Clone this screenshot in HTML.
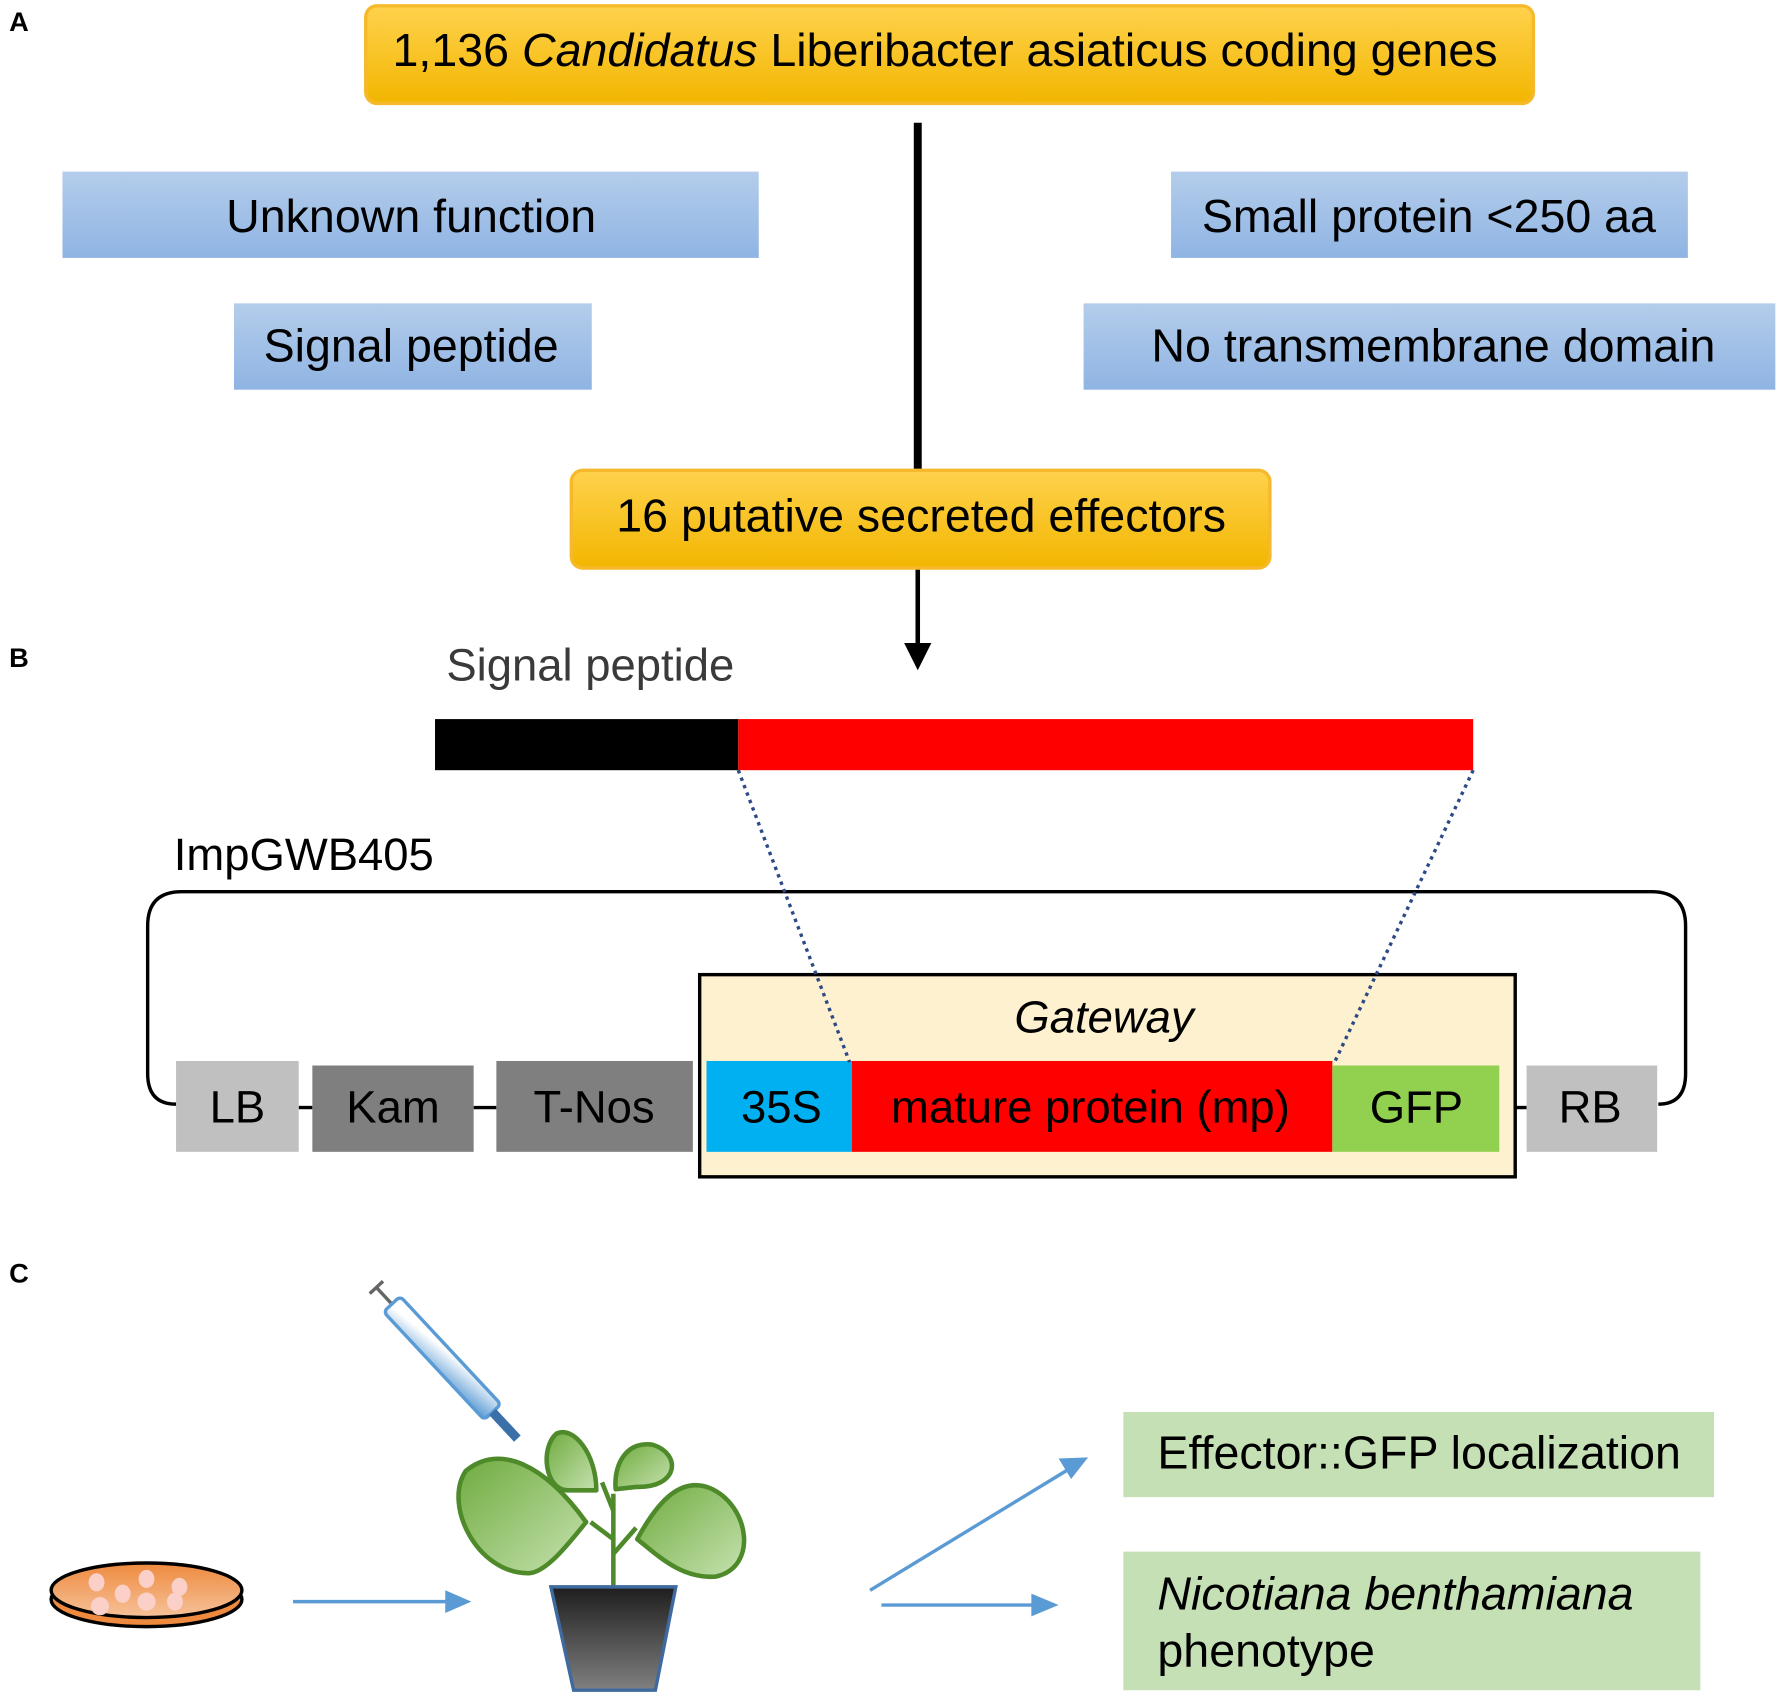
<!DOCTYPE html>
<html><head><meta charset="utf-8"><style>html,body{margin:0;padding:0;background:#fff}svg{display:block}</style></head>
<body>
<svg width="1781" height="1696" viewBox="0 0 1568 1493" xmlns="http://www.w3.org/2000/svg" font-family="Liberation Sans, Arial, sans-serif">
<defs>
<linearGradient id="gold" x1="0" y1="0" x2="0" y2="1"><stop offset="0" stop-color="#ffd24d"/><stop offset="1" stop-color="#f2b600"/></linearGradient>
<linearGradient id="blue" x1="0" y1="0" x2="0" y2="1"><stop offset="0" stop-color="#b4cdeb"/><stop offset="1" stop-color="#8fb4e3"/></linearGradient>
<linearGradient id="leaf" x1="0" y1="0" x2="1" y2="1"><stop offset="0" stop-color="#6fab3e"/><stop offset="1" stop-color="#c6e2b0"/></linearGradient>
<linearGradient id="pot" x1="0" y1="0" x2="0" y2="1"><stop offset="0" stop-color="#1e1e1e"/><stop offset="1" stop-color="#808080"/></linearGradient>
<linearGradient id="dish" x1="0" y1="0" x2="0" y2="1"><stop offset="0" stop-color="#ee8a3e"/><stop offset="1" stop-color="#f6c29a"/></linearGradient>
<linearGradient id="syr" x1="0" y1="0" x2="1" y2="1"><stop offset="0.3" stop-color="#ffffff"/><stop offset="1" stop-color="#5b9bd5"/></linearGradient>
</defs>
<g font-weight="bold" font-size="24" fill="#000">
<text x="8" y="27">A</text><text x="8" y="587">B</text><text x="8" y="1129">C</text>
</g>
<!-- A -->
<line x1="808" y1="108" x2="808" y2="414" stroke="#000" stroke-width="7"/>
<line x1="808" y1="500" x2="808" y2="568" stroke="#000" stroke-width="4"/>
<polygon points="796,566 820,566 808,590" fill="#000"/>
<rect x="322" y="5" width="1028" height="86" rx="10" fill="url(#gold)" stroke="#f7b92c" stroke-width="3"/>
<text x="832" y="58" text-anchor="middle" font-size="41" fill="#000">1,136 <tspan font-style="italic">Candidatus</tspan> Liberibacter asiaticus coding genes</text>
<rect x="55" y="151" width="613" height="76" fill="url(#blue)"/>
<text x="362" y="204" text-anchor="middle" font-size="41">Unknown function</text>
<rect x="1031" y="151" width="455" height="76" fill="url(#blue)"/>
<text x="1258" y="204" text-anchor="middle" font-size="41">Small protein &lt;250 aa</text>
<rect x="206" y="267" width="315" height="76" fill="url(#blue)"/>
<text x="362" y="318" text-anchor="middle" font-size="41">Signal peptide</text>
<rect x="954" y="267" width="609" height="76" fill="url(#blue)"/>
<text x="1262" y="318" text-anchor="middle" font-size="41">No transmembrane domain</text>
<rect x="503" y="414" width="615" height="86" rx="10" fill="url(#gold)" stroke="#f7b92c" stroke-width="3"/>
<text x="811" y="468" text-anchor="middle" font-size="41">16 putative secreted effectors</text>
<!-- B -->
<text x="393" y="599" font-size="40" fill="#3a3a3a">Signal peptide</text>
<rect x="383" y="633" width="267" height="45" fill="#000"/>
<rect x="650" y="633" width="647" height="45" fill="#ff0000"/>
<text x="153" y="766" font-size="40" fill="#000">ImpGWB405</text>
<path d="M155,972 Q130,972 130,945 L130,815 Q130,785 160,785 L1454,785 Q1484,785 1484,815 L1484,945 Q1484,972 1460,972" fill="none" stroke="#000" stroke-width="3"/>
<line x1="263" y1="975" x2="275" y2="975" stroke="#000" stroke-width="3"/>
<line x1="417" y1="975" x2="437" y2="975" stroke="#000" stroke-width="3"/>
<line x1="1334" y1="975" x2="1344" y2="975" stroke="#000" stroke-width="3"/>
<rect x="616" y="858" width="718" height="178" fill="#fdf1cf" stroke="#000" stroke-width="3"/>
<text x="972" y="909" text-anchor="middle" font-size="40" font-style="italic">Gateway</text>
<rect x="155" y="934" width="108" height="80" fill="#c0c0c0"/><text x="209" y="988" text-anchor="middle" font-size="40">LB</text>
<rect x="275" y="938" width="142" height="76" fill="#7f7f7f"/><text x="346" y="988" text-anchor="middle" font-size="40">Kam</text>
<rect x="437" y="934" width="173" height="80" fill="#7f7f7f"/><text x="523" y="988" text-anchor="middle" font-size="40">T-Nos</text>
<rect x="622" y="934" width="128" height="80" fill="#00b0f0"/><text x="688" y="988" text-anchor="middle" font-size="40">35S</text>
<rect x="750" y="934" width="423" height="80" fill="#ff0000"/><text x="960" y="988" text-anchor="middle" font-size="40">mature protein (mp)</text>
<rect x="1173" y="938" width="147" height="76" fill="#92d050"/><text x="1247" y="988" text-anchor="middle" font-size="40">GFP</text>
<rect x="1344" y="938" width="115" height="76" fill="#c0c0c0"/><text x="1400" y="988" text-anchor="middle" font-size="40">RB</text>
<line x1="650" y1="678" x2="748" y2="935" stroke="#2e4a86" stroke-width="3" stroke-dasharray="3,4"/>
<line x1="1297" y1="678" x2="1175" y2="935" stroke="#2e4a86" stroke-width="3" stroke-dasharray="3,4"/>
<!-- C -->
<rect x="989" y="1243" width="520" height="75" fill="#c5e0b4"/>
<text x="1019" y="1293" font-size="41">Effector::GFP localization</text>
<rect x="989" y="1366" width="508" height="122" fill="#c5e0b4"/>
<text x="1019" y="1417" font-size="41" font-style="italic">Nicotiana benthamiana</text>
<text x="1019" y="1467" font-size="41">phenotype</text>
<g stroke="#5b9bd5" stroke-width="3" fill="#5b9bd5">
<line x1="258" y1="1410" x2="396" y2="1410"/><polygon points="392,1400 415,1410 392,1420" stroke="none"/>
<line x1="776" y1="1413" x2="912" y2="1413"/><polygon points="908,1403 932,1413 908,1423" stroke="none"/>
<line x1="766" y1="1400" x2="940" y2="1294"/><polygon points="932,1284 958,1283 943,1302" stroke="none"/>
</g>
<ellipse cx="129" cy="1408" rx="84" ry="24" fill="#ee8a3e" stroke="#000" stroke-width="3"/>
<ellipse cx="129" cy="1400" rx="84" ry="24" fill="url(#dish)" stroke="#000" stroke-width="3"/>
<g fill="#fbd0c8">
<ellipse cx="85" cy="1393" rx="7" ry="8"/><ellipse cx="129" cy="1390" rx="7" ry="8"/><ellipse cx="158" cy="1397" rx="7" ry="8"/>
<ellipse cx="108" cy="1403" rx="7" ry="8"/><ellipse cx="129" cy="1410" rx="8" ry="8"/><ellipse cx="154" cy="1410" rx="7" ry="8"/><ellipse cx="88" cy="1414" rx="8" ry="8"/>
</g>
<g transform="translate(345,1148) rotate(47)">
<line x1="-20" y1="0" x2="0" y2="0" stroke="#666" stroke-width="3"/>
<line x1="-20" y1="-8" x2="-20" y2="8" stroke="#666" stroke-width="3"/>
<rect x="0" y="-10" width="130" height="20" rx="4" fill="url(#syr)" stroke="#5b9bd5" stroke-width="3"/>
<rect x="130" y="-4" width="32" height="8" fill="#3a6fa8"/>
</g>
<g stroke="#4e8a2a" stroke-width="4" fill="url(#leaf)" stroke-linejoin="round">
<line x1="540" y1="1398" x2="540" y2="1315" fill="none"/>
<line x1="540" y1="1368" x2="560" y2="1345" fill="none"/>
<line x1="540" y1="1355" x2="520" y2="1340" fill="none"/>
<line x1="540" y1="1330" x2="530" y2="1305" fill="none"/>
<path d="M516,1340 C480,1290 440,1270 410,1295 C390,1325 420,1385 465,1385 C480,1385 500,1360 516,1340 Z"/>
<path d="M525,1312 C525,1280 505,1255 490,1262 C475,1275 480,1312 500,1312 Z"/>
<path d="M542,1311 C540,1285 555,1268 575,1272 C600,1280 598,1310 560,1309 Z"/>
<path d="M561,1355 C580,1320 600,1300 625,1310 C660,1325 668,1380 630,1388 C600,1390 580,1370 561,1355 Z"/>
</g>
<polygon points="485,1397 595,1397 577,1488 505,1488" fill="url(#pot)" stroke="#3f6a9f" stroke-width="3"/>
</svg>
</body></html>
